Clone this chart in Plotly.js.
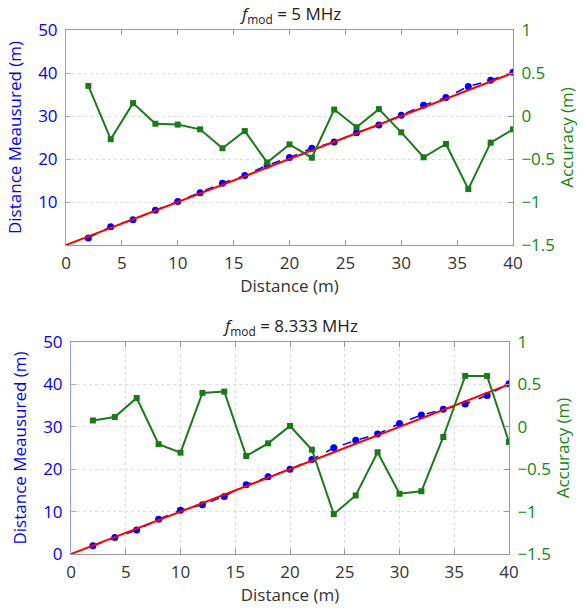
<!DOCTYPE html>
<html>
<head>
<meta charset="utf-8">
<script src="https://cdn.plot.ly/plotly-3.0.1.min.js"></script>
<style>html,body{margin:0;padding:0;background:#fff;}#chart{width:584px;height:611px;}</style>
</head>
<body>
<div id="chart"></div>
<script>
// Shared
const distance = [2,4,6,8,10,12,14,16,18,20,22,24,26,28,30,32,34,36,38,40];
const idealX = [0, 40];
const idealY = [0, 40];

// f_mod = 5 MHz
const measured5 = [1.65,4.27,5.85,8.09,10.10,12.16,14.38,16.17,18.54,20.33,22.49,23.93,26.13,27.92,30.19,32.48,34.33,36.85,38.31,40.16];
const accuracy5 = [0.35,-0.27,0.15,-0.09,-0.10,-0.155,-0.375,-0.175,-0.54,-0.33,-0.485,0.075,-0.13,0.08,-0.19,-0.48,-0.325,-0.85,-0.31,-0.155];

// f_mod = 8.333 MHz
const measured8 = [1.93,3.88,5.66,8.21,10.31,11.60,13.59,16.34,18.20,19.99,22.27,25.03,26.81,28.30,30.79,32.76,34.12,35.40,37.40,40.18];
const accuracy8 = [0.075,0.115,0.34,-0.205,-0.305,0.40,0.415,-0.345,-0.195,0.01,-0.27,-1.03,-0.81,-0.30,-0.79,-0.76,-0.12,0.60,0.60,-0.18];

const xTicks = [0,5,10,15,20,25,30,35,40];
const leftTicksTop = [10,20,30,40,50];
const leftTicksBottom = [0,10,20,30,40,50];
const rightTicks = [-1.5,-1,-0.5,0,0.5,1];
const rightTickText = ['−1.5','−1','−0.5','0','0.5','1'];

const BLUE = '#0000ff', GREEN = '#1a7a1a', GREENTXT = '#118811', RED = '#ff0000';
const FONT = 'Open Sans, DejaVu Sans, sans-serif';
const FS = 17;

function traces(measured, accuracy, xa, ya, ya2) {
  return [
    {x: distance, y: measured, xaxis: xa, yaxis: ya, type: 'scatter', mode: 'lines+markers',
     line: {color: BLUE, width: 1.5, dash: 'dash'}, marker: {color: BLUE, size: 7, symbol: 'circle'}},
    {x: idealX, y: idealY, xaxis: xa, yaxis: ya, type: 'scatter', mode: 'lines',
     line: {color: RED, width: 2}},
    {x: distance, y: accuracy, xaxis: xa, yaxis: ya2, type: 'scatter', mode: 'lines+markers',
     line: {color: GREEN, width: 2}, marker: {color: GREEN, size: 6, symbol: 'square'}}
  ];
}

const data = [].concat(
  traces(measured5, accuracy5, 'x', 'y', 'y2'),
  traces(measured8, accuracy8, 'x2', 'y3', 'y4')
);

function xaxis(domain, anchor, grid) {
  return {domain: domain, anchor: anchor, range: [0, 40], tickvals: xTicks,
    showline: true, linecolor: '#999', linewidth: 1, mirror: 'ticks',
    ticks: 'inside', ticklen: 5, tickcolor: '#999', ticklabelstandoff: 3,
    showgrid: grid, gridcolor: '#dadada', griddash: 'dot', zeroline: false,
    tickfont: {family: FONT, size: FS, color: '#333'},
    title: {text: 'Distance (m)', font: {family: FONT, size: FS, color: '#333'}, standoff: 2}};
}
function yleft(domain, anchor, tv) {
  return {domain: domain, anchor: anchor, range: [0, 50], tickvals: tv,
    showline: true, linecolor: '#9999ff', linewidth: 1,
    ticks: 'inside', ticklen: 5, tickcolor: '#aaa', ticklabelstandoff: 4,
    showgrid: true, gridcolor: '#dedede', griddash: 'dot', zeroline: false,
    tickfont: {family: FONT, size: FS, color: BLUE},
    title: {text: 'Distance Meausured (m)', font: {family: FONT, size: FS, color: BLUE}, standoff: 12}};
}
function yright(overlay, anchor) {
  return {overlaying: overlay, anchor: anchor, side: 'right', range: [-1.5, 1],
    tickvals: rightTicks, ticktext: rightTickText,
    showline: true, linecolor: '#999', linewidth: 1,
    ticks: 'inside', ticklen: 5, tickcolor: '#999', ticklabelstandoff: 4,
    showgrid: false, zeroline: false,
    tickfont: {family: FONT, size: FS, color: GREENTXT},
    title: {text: 'Accuracy (m)', font: {family: FONT, size: FS, color: GREENTXT}, standoff: 6}};
}

const layout = {
  width: 584, height: 611,
  margin: {l: 0, r: 0, t: 0, b: 0},
  paper_bgcolor: '#fff', plot_bgcolor: '#fff',
  showlegend: false,
  xaxis: xaxis([66/584, 513/584], 'y', false),
  yaxis: yleft([1-245/611, 1-30/611], 'x', leftTicksTop),
  yaxis2: yright('y', 'x'),
  xaxis2: xaxis([71/584, 509/584], 'y3', true),
  yaxis3: yleft([1-554/611, 1-342/611], 'x2', leftTicksBottom),
  yaxis4: yright('y3', 'x2'),
  annotations: [
    {text: '<i>f</i><sub>mod</sub> = 5 MHz', xref: 'paper', yref: 'paper', x: 290/584, y: 1-14/611,
     xanchor: 'center', yanchor: 'middle', showarrow: false, font: {family: FONT, size: FS, color: '#222'}},
    {text: '<i>f</i><sub>mod</sub> = 8.333 MHz', xref: 'paper', yref: 'paper', x: 290/584, y: 1-326/611,
     xanchor: 'center', yanchor: 'middle', showarrow: false, font: {family: FONT, size: FS, color: '#222'}}
  ]
};

Plotly.newPlot('chart', data, layout, {displayModeBar: false, staticPlot: true});
</script>
</body>
</html>
